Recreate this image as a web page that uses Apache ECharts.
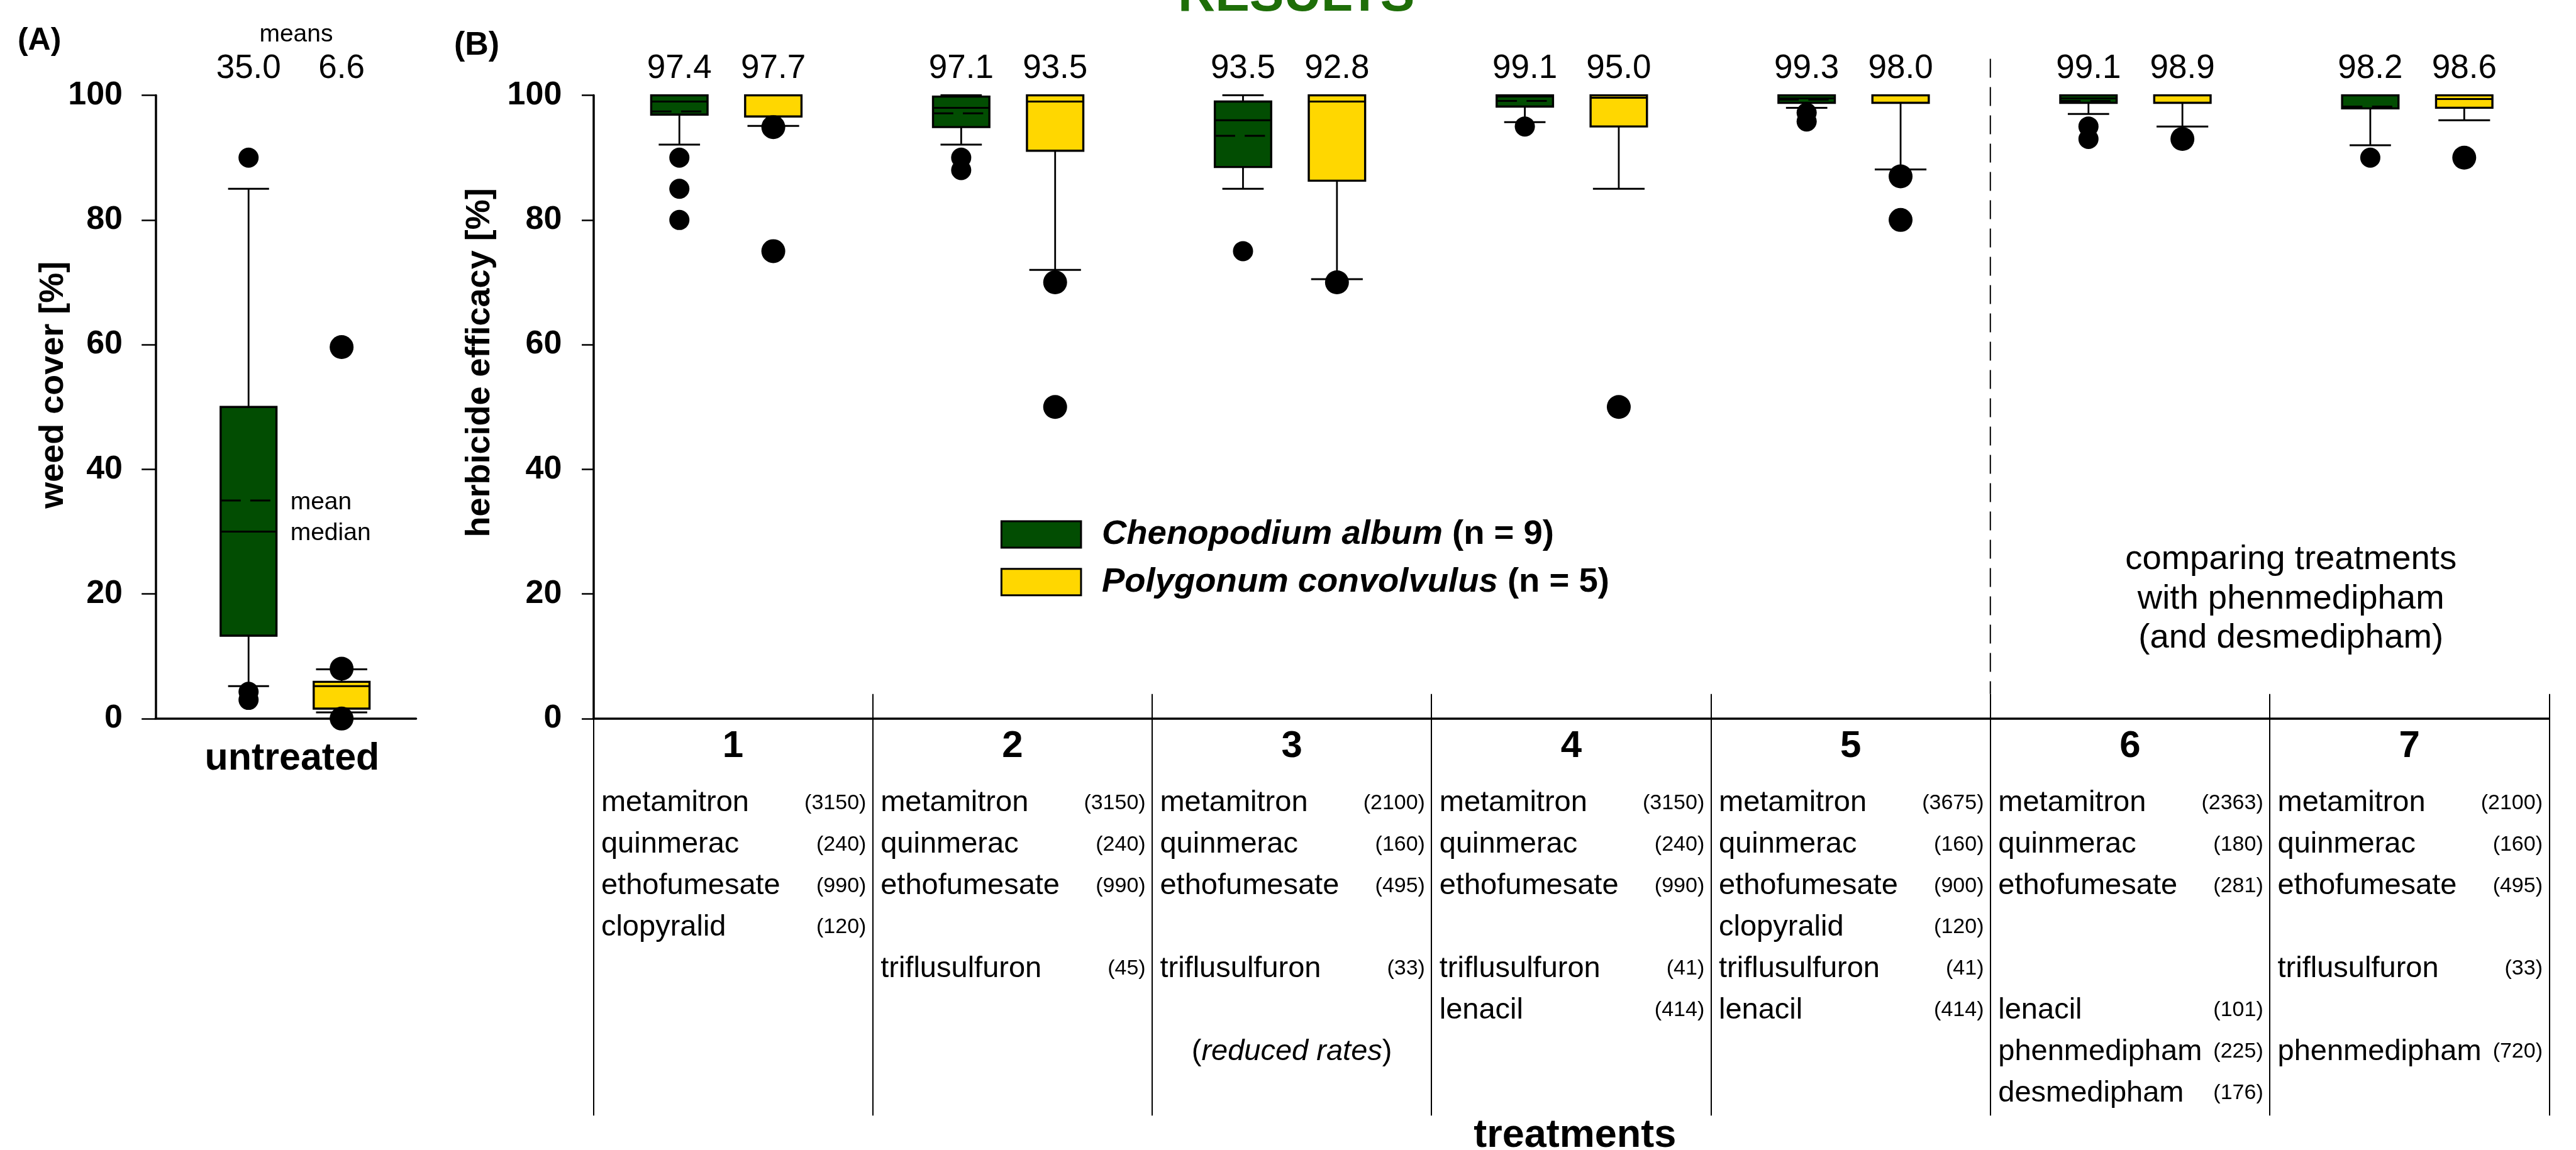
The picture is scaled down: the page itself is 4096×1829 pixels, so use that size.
<!DOCTYPE html>
<html><head><meta charset="utf-8">
<script src="https://cdn.jsdelivr.net/npm/echarts@6/dist/echarts.min.js"></script>
<style>html,body{margin:0;padding:0;background:#fff}#c{width:4096px;height:1829px}</style>
</head><body><div id="c"></div>
<script>
// ---------------- data ----------------
const speciesNames = ['Chenopodium album', 'Polygonum convolvulus'];
const speciesN = [9, 5];

// Panel A (untreated): [low whisker, q1, median, q3, high whisker]
const untreatedPos = [1, 2];
const untreatedGreenStats = [5.2, 13.3, 30.0, 50.0, 85.0];
const untreatedYellowStats = [1.0, 1.6, 5.2, 5.9, 7.9];
const untreatedMeans = [35.0, 6.6];
const untreatedGreenOutliers = [90.0, 4.3, 3.0];
const untreatedYellowOutliers = [59.6, 8.0, 0.0];

// Panel B (treatments)
const treatments = ['1', '2', '3', '4', '5', '6', '7'];
const chenoPos = [1, 4, 7, 10, 13, 16, 19];
const polyPos = [2, 5, 8, 11, 14, 17, 20];
const chenoStats = [
  [92.1, 96.9, 99.0, 100, 100],
  [92.1, 94.9, 98.0, 99.8, 100],
  [85.0, 88.5, 96.0, 99.0, 100],
  [95.7, 98.2, 99.8, 100, 100],
  [98.0, 98.8, 99.5, 100, 100],
  [97.0, 98.8, 99.5, 100, 100],
  [92.0, 97.9, 100, 100, 100]
];
const chenoMeans = [97.4, 97.1, 93.5, 99.1, 99.3, 99.1, 98.2];
const polyStats = [
  [95.1, 96.6, 100, 100, 100],
  [72.0, 91.1, 99.0, 100, 100],
  [70.5, 86.3, 99.0, 100, 100],
  [85.0, 95.0, 99.6, 100, 100],
  [88.1, 98.8, 100, 100, 100],
  [95.0, 98.8, 100, 100, 100],
  [96.0, 98.0, 99.4, 100, 100]
];
const polyMeans = [97.7, 93.5, 92.8, 95.0, 98.0, 98.9, 98.6];
const chenoOutliers = [[90.0, 85.0, 80.0], [90.0, 88.0], [75.0], [95.0], [97.2, 95.8], [95.0, 93.0], [90.0]];
const polyOutliers = [[94.9, 75.0], [70.0, 50.0], [70.0], [50.0], [87.0, 80.0], [93.0], [90.0]];

// Treatment composition table (dose per herbicide row, null = absent)
const herbicides = ['metamitron', 'quinmerac', 'ethofumesate', 'clopyralid', 'triflusulfuron', 'lenacil', 'phenmedipham', 'desmedipham'];
const doses = [
  [3150, 240, 990, 120, null, null, null, null],
  [3150, 240, 990, null, 45, null, null, null],
  [2100, 160, 495, null, 33, null, null, null],
  [3150, 240, 990, null, 41, 414, null, null],
  [3675, 160, 900, 120, 41, 414, null, null],
  [2363, 180, 281, null, null, 101, 225, 176],
  [2100, 160, 495, null, 33, null, 720, null]
];
const treatmentNotes = ['', '', 'reduced rates', '', '', '', ''];
const groupDividerAfter = 5;

const yTicks = [0, 20, 40, 60, 80, 100];

// ---------------- helpers ----------------
const FONT = '"Liberation Sans", Arial, sans-serif';
const S = 4096 / 5566;
const P = v => v * S;
const GREEN = '#024d02', YELLOW = '#ffd700';

function boxData(pos, stats, means) { return pos.map((p, i) => [p].concat(stats[i]).concat([means[i]])); }
function outlierData(pos, outs) { const r = []; pos.forEach((p, i) => outs[i].forEach(v => r.push([p, v]))); return r; }

function renderBox(color, capFrac, showMean) {
  return function (params, api) {
    const x = api.value(0);
    const lo = api.value(1), q1 = api.value(2), med = api.value(3), q3 = api.value(4), hi = api.value(5), mean = api.value(6);
    const unit = api.size([1, 0])[0];
    const bw = unit * 0.6, cw = unit * capFrac;
    const cx = api.coord([x, 0])[0];
    const Y = v => api.coord([x, v])[1];
    const blk = '#000';
    const ch = [
      { type: 'line', shape: { x1: cx, y1: Y(lo), x2: cx, y2: Y(q1) }, style: { stroke: blk, lineWidth: 2.8 } },
      { type: 'line', shape: { x1: cx, y1: Y(q3), x2: cx, y2: Y(hi) }, style: { stroke: blk, lineWidth: 2.8 } },
      { type: 'line', shape: { x1: cx - cw / 2, y1: Y(lo), x2: cx + cw / 2, y2: Y(lo) }, style: { stroke: blk, lineWidth: 3 } },
      { type: 'line', shape: { x1: cx - cw / 2, y1: Y(hi), x2: cx + cw / 2, y2: Y(hi) }, style: { stroke: blk, lineWidth: 3 } },
      { type: 'rect', shape: { x: cx - bw / 2, y: Y(q3), width: bw, height: Y(q1) - Y(q3) }, style: { fill: color, stroke: blk, lineWidth: 3.4 } },
      { type: 'line', shape: { x1: cx - bw / 2, y1: Y(med), x2: cx + bw / 2, y2: Y(med) }, style: { stroke: blk, lineWidth: 3 } }
    ];
    if (showMean) {
      ch.push({ type: 'line', shape: { x1: cx - bw / 2, y1: Y(mean), x2: cx + bw / 2, y2: Y(mean) },
        style: { stroke: blk, lineWidth: 3, lineDash: [bw * 0.36, bw * 0.17] } });
    }
    ch.push({ type: 'text', x: cx, y: Y(100) - P(57),
      style: { text: mean.toFixed(1), align: 'center', verticalAlign: 'middle', fontSize: 53, fontFamily: FONT, fill: '#000' } });
    return { type: 'group', children: ch };
  };
}

// table items
const tableItems = [];
doses.forEach((row, t) => row.forEach((d, r) => { if (d != null) tableItems.push({ t: t, r: r, name: herbicides[r], dose: d }); }));
treatmentNotes.forEach((n, t) => { if (n) tableItems.push({ t: t, r: 6, note: n }); });

function renderTable(params, api) {
  const it = tableItems[params.dataIndex];
  const c = api.coord([api.value(0), 0]);
  const half = api.size([1, 0])[0] / 2;
  const left = c[0] - half, right = c[0] + half;
  const y = c[1] + P(183) + P(89.5) * it.r;
  if (it.note) {
    return { type: 'text', x: c[0], y: y, style: {
      text: '{p|(}{i|' + it.note + '}{p|)}', align: 'center', verticalAlign: 'middle',
      rich: { p: { fontSize: 47, fontFamily: FONT, fill: '#000' }, i: { fontSize: 47, fontFamily: FONT, fontStyle: 'italic', fill: '#000' } } } };
  }
  return { type: 'group', children: [
    { type: 'text', x: left + P(17), y: y, style: { text: it.name, align: 'left', verticalAlign: 'middle', fontSize: 47, fontFamily: FONT, fill: '#000' } },
    { type: 'text', x: right - P(14), y: y, style: { text: '(' + it.dose + ')', align: 'right', verticalAlign: 'middle', fontSize: 34, fontFamily: FONT, fill: '#000' } }
  ] };
}

function renderDivider(params, api) {
  const c = api.coord([api.value(0), 0]);
  const x = c[0] + api.size([1, 0])[0] / 2;
  const top = api.coord([api.value(0), 100])[1] - P(79);
  return { type: 'line', shape: { x1: x, y1: top, x2: x, y2: c[1] - P(53) },
    style: { stroke: '#000', lineWidth: 2, lineDash: [30, 15] } };
}

function renderAnnot(params, api) {
  const labels = ['mean', 'median'];
  const x = api.value(0), v = api.value(1);
  const unit = api.size([1, 0])[0];
  const p = api.coord([x, v]);
  return { type: 'text', x: p[0] + unit * 0.3 + P(30), y: p[1] + 3,
    style: { text: labels[params.dataIndex], align: 'left', verticalAlign: 'middle', fontSize: 39, fontFamily: FONT, fill: '#000' } };
}

const gridTop = P(206), gridH = P(1553 - 206);
const yAxisCommon = (tickLen, margin) => ({
  type: 'value', min: yTicks[0], max: yTicks[yTicks.length - 1], interval: yTicks[1] - yTicks[0],
  axisLine: { show: true, lineStyle: { color: '#000', width: 3.5 } },
  axisTick: { show: true, length: tickLen, lineStyle: { color: '#000', width: 2.5 } },
  axisLabel: { fontSize: 52, fontWeight: 'bold', color: '#000', fontFamily: FONT, margin: margin },
  splitLine: { show: false }
});

const outlierStyle = { color: '#000', opacity: 1 };

const chart = echarts.init(document.getElementById('c'), null, { renderer: 'canvas' });
chart.setOption({
  animation: false,
  backgroundColor: '#fff',
  textStyle: { fontFamily: FONT },
  grid: [
    { left: P(336), top: gridTop, width: P(899 - 336), height: gridH },
    { left: P(1282), top: gridTop, width: P(5508 - 1282), height: gridH }
  ],
  xAxis: [
    { gridIndex: 0, type: 'value', min: 0, max: 2.8, position: 'bottom',
      axisLine: { show: true, onZero: false, lineStyle: { color: '#000', width: 3.5 } },
      axisTick: { show: false }, axisLabel: { show: false }, splitLine: { show: false } },
    { gridIndex: 1, type: 'value', min: 0.084, max: 20.904, position: 'bottom', show: false },
    { gridIndex: 1, type: 'category', data: treatments, position: 'bottom', boundaryGap: true,
      axisLine: { show: true, onZero: false, lineStyle: { color: '#000', width: 3.5 } },
      axisTick: { show: true, interval: 0, inside: false, length: P(2411 - 1553), lineStyle: { color: '#000', width: 2 } },
      axisLabel: { show: true, interval: 0, fontSize: 60, fontWeight: 'bold', color: '#000', fontFamily: FONT, margin: P(61), verticalAlign: 'middle' },
      splitLine: { show: false } },
    { gridIndex: 1, type: 'category', data: treatments, position: 'bottom', boundaryGap: true,
      axisLine: { show: false, onZero: false },
      axisTick: { show: true, interval: 0, inside: true, length: P(53), lineStyle: { color: '#000', width: 2 } },
      axisLabel: { show: false }, splitLine: { show: false } }
  ],
  yAxis: [
    Object.assign({ gridIndex: 0 }, yAxisCommon(P(30), P(71))),
    Object.assign({ gridIndex: 1 }, yAxisCommon(P(25), P(68)))
  ],
  legend: {
    show: true, orient: 'vertical', left: P(2155), top: P(1111), itemWidth: P(172), itemHeight: P(57), itemGap: P(28),
    selectedMode: false,
    data: [
      { name: speciesNames[0], icon: 'rect', itemStyle: { color: GREEN, borderColor: '#000', borderWidth: 3 } },
      { name: speciesNames[1], icon: 'rect', itemStyle: { color: YELLOW, borderColor: '#000', borderWidth: 3 } }
    ],
    formatter: name => '{i|' + name + '}{n| (n = ' + speciesN[speciesNames.indexOf(name)] + ')}',
    textStyle: { rich: {
      i: { fontSize: 54.5, fontWeight: 'bold', fontStyle: 'italic', fontFamily: FONT, color: '#000', padding: [0, 0, 0, 28] },
      n: { fontSize: 54.5, fontWeight: 'bold', fontFamily: FONT, color: '#000' }
    } }
  },
  series: [
    { type: 'custom', name: speciesNames[0], xAxisIndex: 0, yAxisIndex: 0, itemStyle: { color: GREEN },
      renderItem: renderBox(GREEN, 0.44, true), data: boxData([untreatedPos[0]], [untreatedGreenStats], [untreatedMeans[0]]) },
    { type: 'custom', name: speciesNames[1], xAxisIndex: 0, yAxisIndex: 0, itemStyle: { color: YELLOW },
      renderItem: renderBox(YELLOW, 0.55, false), data: boxData([untreatedPos[1]], [untreatedYellowStats], [untreatedMeans[1]]) },
    { type: 'custom', name: 'annot', xAxisIndex: 0, yAxisIndex: 0, renderItem: renderAnnot,
      data: [[untreatedPos[0], untreatedMeans[0]], [untreatedPos[0], untreatedGreenStats[2]]] },
    { type: 'scatter', name: 'outA1', xAxisIndex: 0, yAxisIndex: 0, symbol: 'circle', symbolSize: 32, itemStyle: outlierStyle, silent: true,
      data: untreatedGreenOutliers.map(v => [untreatedPos[0], v]) },
    { type: 'scatter', name: 'outA2', xAxisIndex: 0, yAxisIndex: 0, symbol: 'circle', symbolSize: 38, itemStyle: outlierStyle, silent: true,
      data: untreatedYellowOutliers.map(v => [untreatedPos[1], v]) },

    { type: 'custom', name: speciesNames[0], xAxisIndex: 1, yAxisIndex: 1, itemStyle: { color: GREEN },
      renderItem: renderBox(GREEN, 0.44, true), data: boxData(chenoPos, chenoStats, chenoMeans) },
    { type: 'custom', name: speciesNames[1], xAxisIndex: 1, yAxisIndex: 1, itemStyle: { color: YELLOW },
      renderItem: renderBox(YELLOW, 0.55, false), data: boxData(polyPos, polyStats, polyMeans) },
    { type: 'scatter', name: 'outB1', xAxisIndex: 1, yAxisIndex: 1, symbol: 'circle', symbolSize: 32, itemStyle: outlierStyle, silent: true,
      data: outlierData(chenoPos, chenoOutliers) },
    { type: 'scatter', name: 'outB2', xAxisIndex: 1, yAxisIndex: 1, symbol: 'circle', symbolSize: 38, itemStyle: outlierStyle, silent: true,
      data: outlierData(polyPos, polyOutliers) },

    { type: 'custom', name: 'table', xAxisIndex: 2, yAxisIndex: 1, renderItem: renderTable,
      data: tableItems.map(it => [it.t, 0]) },
    { type: 'custom', name: 'divider', xAxisIndex: 2, yAxisIndex: 1, renderItem: renderDivider,
      data: [[groupDividerAfter - 1, 0]] }
  ],
  graphic: [
    { type: 'text', x: P(2801), y: -5.4, style: { text: 'RESULTS', align: 'center', verticalAlign: 'middle', fontSize: 82, fontWeight: 'bold', fontFamily: FONT, fill: '#1e6e08' } },
    { type: 'text', x: P(38), y: P(88), style: { text: '(A)', align: 'left', verticalAlign: 'middle', fontSize: 50, fontWeight: 'bold', fontFamily: FONT, fill: '#000' } },
    { type: 'text', x: P(981), y: P(99), style: { text: '(B)', align: 'left', verticalAlign: 'middle', fontSize: 52, fontWeight: 'bold', fontFamily: FONT, fill: '#000' } },
    { type: 'text', x: P(640), y: P(75), style: { text: 'means', align: 'center', verticalAlign: 'middle', fontSize: 39, fontFamily: FONT, fill: '#000' } },
    { type: 'text', x: P(115), y: P(832), rotation: Math.PI / 2, style: { text: 'weed cover [%]', align: 'center', verticalAlign: 'middle', fontSize: 54, fontWeight: 'bold', fontFamily: FONT, fill: '#000' } },
    { type: 'text', x: P(1037), y: P(784), rotation: Math.PI / 2, style: { text: 'herbicide efficacy [%]', align: 'center', verticalAlign: 'middle', fontSize: 54, fontWeight: 'bold', fontFamily: FONT, fill: '#000' } },
    { type: 'text', x: P(631), y: P(1640), style: { text: 'untreated', align: 'center', verticalAlign: 'middle', fontSize: 61, fontWeight: 'bold', fontFamily: FONT, fill: '#000' } },
    { type: 'text', x: P(3403), y: P(2455), style: { text: 'treatments', align: 'center', verticalAlign: 'middle', fontSize: 63, fontWeight: 'bold', fontFamily: FONT, fill: '#000' } },
    { type: 'text', x: P(4950), y: P(1209) - 31, style: { text: 'comparing treatments\nwith phenmedipham\n(and desmedipham)', align: 'center', verticalAlign: 'top', lineHeight: P(85), fontSize: 54.5, fontFamily: FONT, fill: '#000' } }
  ]
});
</script></body></html>
